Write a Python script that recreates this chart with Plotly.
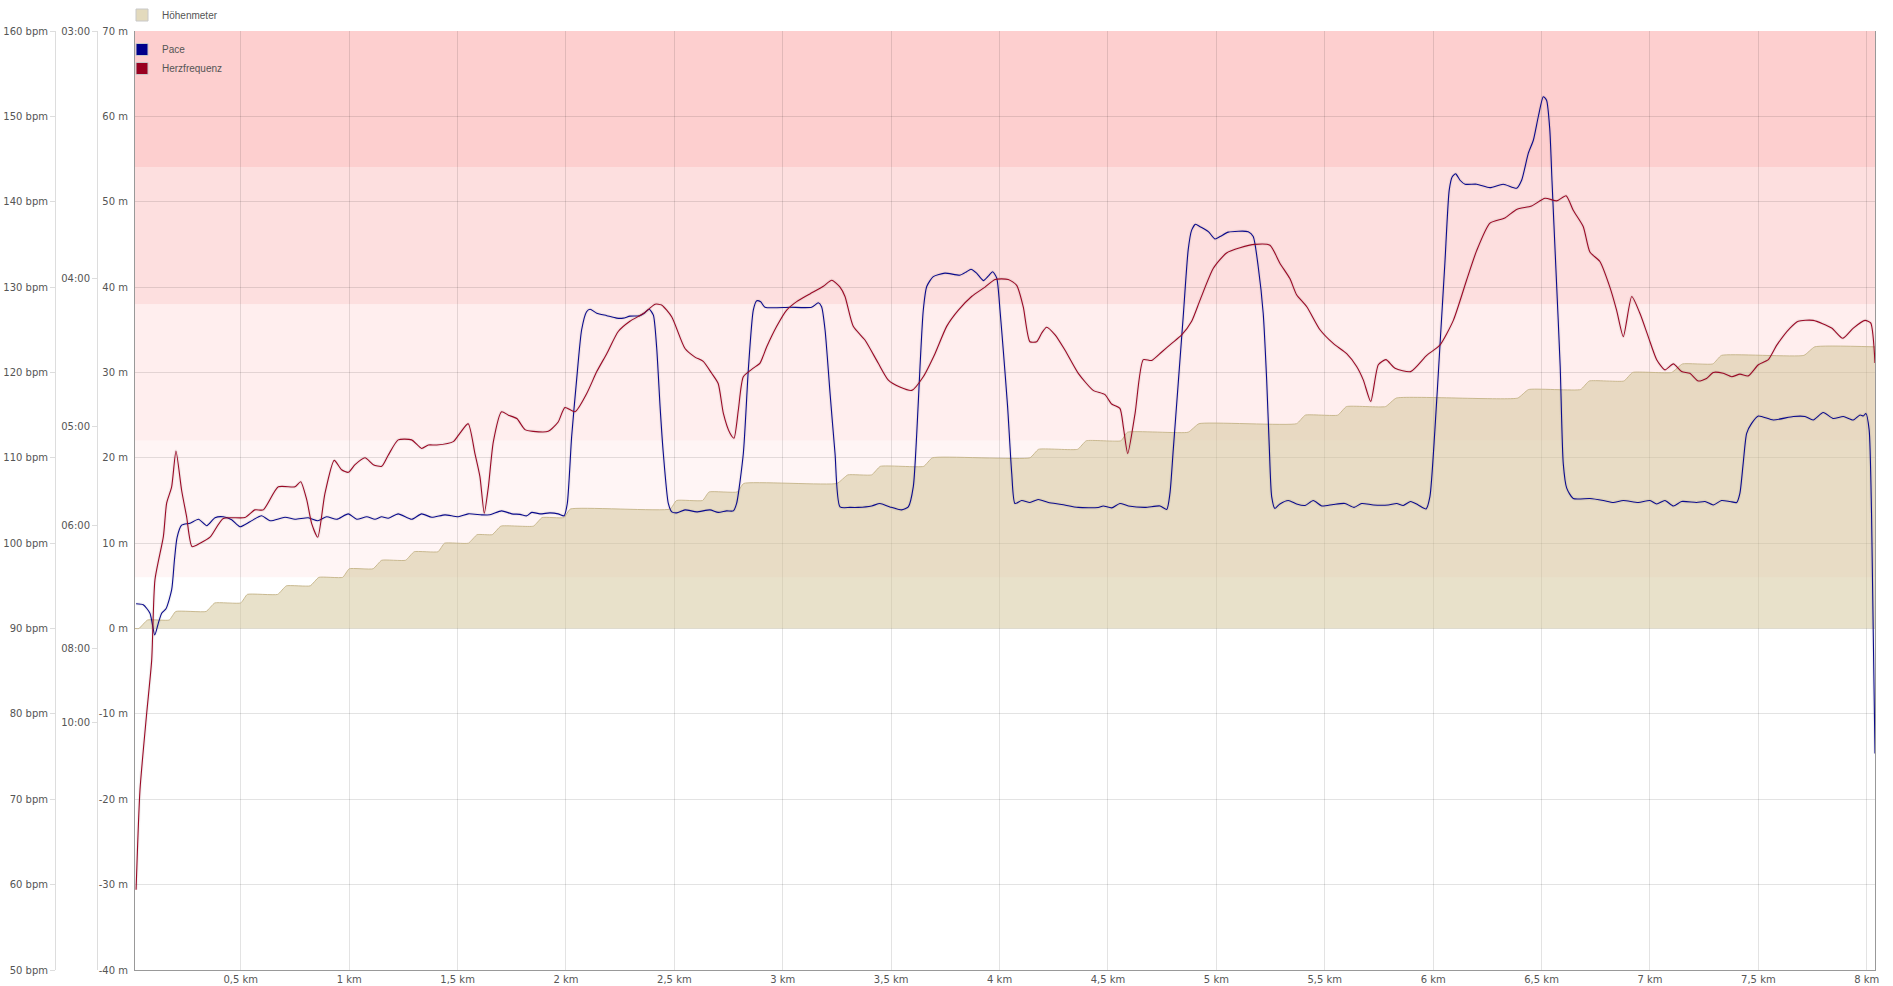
import plotly.graph_objects as go

# ---------------- data ----------------
# Höhenmeter (elevation, m) vs distance (km)
elev_km = [0.012, 0.03, 0.07, 0.17, 0.20, 0.34, 0.38, 0.50, 0.53, 0.67, 0.71, 0.82, 0.86,
           0.97, 1.00, 1.11, 1.15, 1.26, 1.30, 1.41, 1.44, 1.55, 1.59, 1.66, 1.70, 1.85, 1.89,
           1.99, 2.02, 2.48, 2.51, 2.63, 2.66, 2.79, 2.82, 3.25, 3.30, 3.41, 3.45, 3.65, 3.69,
           4.14, 4.18, 4.36, 4.40, 4.56, 4.59, 4.87, 4.92, 5.37, 5.41, 5.56, 5.60, 5.78, 5.83,
           6.39, 6.44, 6.68, 6.72, 6.88, 6.92, 7.10, 7.15, 7.29, 7.33, 7.71, 7.76, 8.038]
elev_m = [0, 0, 1, 1, 2, 2, 3, 3, 4, 4, 5, 5, 6, 6, 7, 7, 8, 8, 9, 9, 10, 10, 11, 11, 12, 12,
          13, 13, 14, 14, 15, 15, 16, 16, 17, 17, 18, 18, 19, 19, 20, 20, 21, 21, 22, 22, 23, 23,
          24, 24, 25, 25, 26, 26, 27, 27, 28, 28, 29, 29, 30, 30, 31, 31, 32, 32, 33, 33]

# Herzfrequenz (bpm) vs distance (km)
hr_km = [0.017, 0.035, 0.066, 0.089, 0.104, 0.143, 0.158, 0.181, 0.201, 0.227, 0.250, 0.275,
         0.312, 0.358, 0.419, 0.519, 0.565, 0.604, 0.673, 0.750, 0.776, 0.804, 0.827, 0.855,
         0.888, 0.931, 0.965, 0.996, 1.027, 1.073, 1.111, 1.150, 1.180, 1.226, 1.288, 1.334,
         1.365, 1.404, 1.480, 1.511, 1.549, 1.580, 1.603, 1.623, 1.642, 1.665, 1.703, 1.734,
         1.773, 1.811, 1.849, 1.918, 1.964, 1.995, 2.042, 2.095, 2.142, 2.188, 2.241, 2.295,
         2.357, 2.411, 2.441, 2.488, 2.549, 2.595, 2.633, 2.672, 2.702, 2.726, 2.756, 2.775,
         2.795, 2.818, 2.864, 2.895, 2.926, 2.972, 3.018, 3.064, 3.125, 3.187, 3.226, 3.264,
         3.287, 3.325, 3.379, 3.440, 3.487, 3.540, 3.595, 3.648, 3.702, 3.756, 3.810, 3.871,
         3.933, 3.979, 4.040, 4.079, 4.109, 4.140, 4.171, 4.194, 4.217, 4.256, 4.302, 4.363,
         4.432, 4.486, 4.517, 4.555, 4.571, 4.591, 4.625, 4.663, 4.701, 4.748, 4.794, 4.840,
         4.886, 4.925, 4.986, 5.047, 5.109, 5.178, 5.247, 5.293, 5.339, 5.370, 5.417, 5.478,
         5.539, 5.601, 5.647, 5.678, 5.712, 5.747, 5.782, 5.824, 5.896, 5.970, 6.031, 6.093,
         6.154, 6.201, 6.262, 6.331, 6.385, 6.454, 6.516, 6.570, 6.613, 6.646, 6.692, 6.723,
         6.769, 6.815, 6.846, 6.877, 6.916, 6.954, 6.992, 7.031, 7.069, 7.108, 7.146, 7.184,
         7.223, 7.261, 7.292, 7.338, 7.377, 7.415, 7.453, 7.500, 7.546, 7.585, 7.646, 7.684,
         7.753, 7.838, 7.889, 7.938, 7.992, 8.018, 8.038]
hr_bpm = [59.4, 71.1, 80.1, 86.3, 95.7, 100.8, 104.7, 106.6, 110.8, 106.2, 103.1, 99.6,
          100.0, 100.7, 102.9, 103.0, 103.9, 103.9, 106.6, 106.6, 107.2, 105.1, 102.3, 100.7,
          105.8, 109.7, 108.6, 108.3, 109.2, 110.0, 109.2, 109.0, 110.3, 112.1, 112.1, 111.1,
          111.5, 111.5, 111.9, 112.9, 114.0, 110.5, 107.8, 103.5, 106.6, 111.9, 115.4, 115.0,
          114.6, 113.3, 113.1, 113.1, 114.2, 115.9, 115.4, 117.5, 120.1, 122.2, 124.8, 126.0,
          126.9, 128.0, 127.9, 126.5, 122.8, 121.8, 121.3, 119.9, 118.7, 115.2, 112.9, 112.3,
          115.6, 119.5, 120.5, 121.1, 123.0, 125.4, 127.3, 128.3, 129.2, 130.1, 130.8, 130.0,
          128.9, 125.4, 123.8, 121.1, 119.1, 118.3, 117.9, 119.5, 122.2, 125.4, 127.3, 128.9,
          130.0, 130.9, 130.9, 130.2, 127.7, 123.6, 123.6, 124.6, 125.3, 124.4, 122.6, 119.9,
          117.9, 117.4, 116.3, 115.8, 113.6, 110.5, 115.2, 121.5, 121.4, 122.4, 123.4, 124.4,
          126.0, 128.5, 132.2, 134.0, 134.6, 135.0, 134.9, 132.8, 131.0, 129.1, 127.7, 125.0,
          123.4, 122.2, 120.7, 119.1, 116.6, 120.9, 121.5, 120.5, 120.1, 122.0, 123.2, 126.1,
          130.8, 134.3, 137.5, 138.1, 139.1, 139.5, 140.4, 140.1, 140.7, 139.0, 137.1, 134.1,
          133.0, 130.0, 127.3, 124.2, 128.9, 126.9, 124.2, 121.5, 120.3, 121.0, 120.1, 119.9,
          119.0, 119.3, 120.0, 119.9, 119.5, 119.8, 119.6, 120.9, 121.5, 123.2, 125.2, 126.0,
          126.1, 125.2, 124.0, 125.2, 126.1, 125.8, 121.1]

# Pace, stored as speed (km/h); the pace axis is linear in speed
pace_km = [0.017, 0.050, 0.081, 0.103, 0.119, 0.135, 0.155, 0.181, 0.194, 0.206, 0.227, 0.266,
           0.305, 0.343, 0.381, 0.419, 0.458, 0.496, 0.542, 0.596, 0.635, 0.704, 0.750, 0.811,
           0.855, 0.896, 0.942, 0.996, 1.035, 1.081, 1.119, 1.150, 1.180, 1.226, 1.288, 1.334,
           1.381, 1.442, 1.503, 1.549, 1.611, 1.649, 1.703, 1.750, 1.788, 1.819, 1.842, 1.880,
           1.926, 1.964, 1.991, 2.006, 2.026, 2.049, 2.072, 2.095, 2.111, 2.142, 2.188, 2.234,
           2.264, 2.295, 2.341, 2.364, 2.384, 2.403, 2.418, 2.434, 2.449, 2.472, 2.488, 2.511,
           2.549, 2.603, 2.664, 2.702, 2.741, 2.772, 2.787, 2.818, 2.841, 2.864, 2.880, 2.898,
           2.918, 3.033, 3.133, 3.164, 3.179, 3.195, 3.218, 3.241, 3.264, 3.310, 3.348, 3.410,
           3.448, 3.494, 3.548, 3.579, 3.602, 3.618, 3.633, 3.648, 3.664, 3.694, 3.748, 3.817,
           3.848, 3.868, 3.894, 3.925, 3.948, 3.968, 3.987, 4.002, 4.017, 4.037, 4.056, 4.071,
           4.102, 4.140, 4.178, 4.225, 4.286, 4.363, 4.455, 4.478, 4.517, 4.555, 4.594, 4.671,
           4.740, 4.771, 4.786, 4.801, 4.824, 4.847, 4.870, 4.886, 4.904, 4.925, 4.963, 4.994,
           5.017, 5.055, 5.147, 5.170, 5.193, 5.216, 5.232, 5.244, 5.255, 5.270, 5.293, 5.332,
           5.370, 5.409, 5.447, 5.486, 5.539, 5.593, 5.635, 5.670, 5.724, 5.793, 5.832, 5.862,
           5.896, 5.931, 5.967, 5.985, 6.008, 6.031, 6.054, 6.074, 6.088, 6.104, 6.124, 6.147,
           6.201, 6.262, 6.323, 6.385, 6.408, 6.439, 6.462, 6.485, 6.508, 6.523, 6.538, 6.548,
           6.566, 6.586, 6.600, 6.616, 6.646, 6.723, 6.785, 6.831, 6.877, 6.946, 7.000, 7.031,
           7.069, 7.108, 7.146, 7.215, 7.254, 7.292, 7.330, 7.369, 7.400, 7.415, 7.430, 7.446,
           7.469, 7.500, 7.569, 7.661, 7.715, 7.753, 7.799, 7.845, 7.892, 7.938, 7.969, 7.984,
           7.996, 8.011, 8.022, 8.038]
pace_speed_kmh = [8.41, 8.39, 8.22, 7.78, 8.01, 8.22, 8.31, 8.69, 9.30, 9.75, 10.00, 10.04,
                  10.12, 9.99, 10.15, 10.17, 10.11, 9.97, 10.07, 10.19, 10.09, 10.16, 10.12, 10.15,
                  10.09, 10.17, 10.12, 10.23, 10.12, 10.17, 10.12, 10.17, 10.14, 10.23, 10.12, 10.23,
                  10.16, 10.21, 10.17, 10.23, 10.21, 10.21, 10.29, 10.23, 10.22, 10.19, 10.26, 10.23,
                  10.25, 10.23, 10.19, 10.44, 11.79, 12.94, 13.95, 14.32, 14.37, 14.29, 14.24, 14.19,
                  14.19, 14.23, 14.24, 14.30, 14.37, 14.25, 13.61, 12.40, 11.45, 10.44, 10.27, 10.25,
                  10.31, 10.27, 10.31, 10.26, 10.29, 10.29, 10.44, 11.45, 13.14, 14.35, 14.54, 14.52,
                  14.41, 14.41, 14.41, 14.50, 14.42, 13.95, 12.67, 11.45, 10.37, 10.36, 10.36, 10.39,
                  10.44, 10.37, 10.31, 10.37, 10.78, 11.86, 13.21, 14.35, 14.83, 15.03, 15.10, 15.06,
                  15.13, 15.18, 15.10, 14.95, 15.04, 15.13, 15.00, 14.35, 13.54, 12.40, 11.05, 10.44,
                  10.50, 10.46, 10.52, 10.46, 10.42, 10.36, 10.36, 10.39, 10.35, 10.44, 10.39, 10.36,
                  10.39, 10.32, 10.65, 11.52, 12.87, 14.22, 15.57, 15.97, 16.09, 16.04, 15.94, 15.79,
                  15.84, 15.93, 15.94, 15.84, 15.23, 14.29, 12.94, 11.59, 10.58, 10.34, 10.43, 10.50,
                  10.43, 10.40, 10.50, 10.39, 10.42, 10.44, 10.36, 10.44, 10.41, 10.41, 10.44, 10.40,
                  10.48, 10.41, 10.33, 10.58, 11.93, 13.61, 15.30, 16.78, 17.05, 17.11, 16.98, 16.90,
                  16.90, 16.83, 16.90, 16.82, 16.98, 17.53, 17.79, 18.27, 18.67, 18.60, 18.00, 16.98,
                  15.20, 13.20, 11.25, 10.75, 10.54, 10.54, 10.50, 10.46, 10.50, 10.46, 10.50, 10.43,
                  10.50, 10.39, 10.48, 10.46, 10.48, 10.41, 10.50, 10.48, 10.46, 10.65, 11.25, 11.86,
                  12.06, 12.21, 12.13, 12.20, 12.20, 12.13, 12.28, 12.16, 12.20, 12.13, 12.23, 12.21,
                  12.26, 11.93, 10.24, 5.38]

# heart-rate zone limits (bpm) and their colours
zone_bpm = [96, 112, 128, 144, 160]
zone_colors = ["#fff5f5", "#ffeeee", "#fddfdf", "#fdcfcf"]

# axis ticks
x_tick_km = [0.5, 1, 1.5, 2, 2.5, 3, 3.5, 4, 4.5, 5, 5.5, 6, 6.5, 7, 7.5, 8]
x_tick_labels = ["0,5 km", "1 km", "1,5 km", "2 km", "2,5 km", "3 km", "3,5 km", "4 km",
                 "4,5 km", "5 km", "5,5 km", "6 km", "6,5 km", "7 km", "7,5 km", "8 km"]
pace_tick_min = [3, 4, 5, 6, 8, 10]
pace_tick_labels = ["03:00", "04:00", "05:00", "06:00", "08:00", "10:00"]
m_tick_vals = [-40, -30, -20, -10, 0, 10, 20, 30, 40, 50, 60, 70]
bpm_tick_vals = [50, 60, 70, 80, 90, 100, 110, 120, 130, 140, 150, 160]

# ---------------- figure ----------------
W, H = 1893, 986
ML, MR, MT, MB = 0, 18, 31, 16
PW = W - ML - MR
PH = H - MT - MB

def px_x(p):
    return p / PW

AXIS_FONT = dict(family="DejaVu Sans", size=10, color="#555555")
LEG_FONT = dict(family="Liberation Sans, Arial", size=10, color="#555555")
HR_COLOR = "#9a0a26"
PACE_COLOR = "#0b0b8c"
ELEV_LINE = "rgba(196,180,135,0.9)"
ELEV_FILL = "rgba(210,195,150,0.5)"

fig = go.Figure()

# elevation area
fig.add_trace(go.Scatter(
    x=elev_km, y=elev_m, mode="lines", name="Höhenmeter",
    line=dict(color=ELEV_LINE, width=1, shape="spline", smoothing=0.4),
    fill="tozeroy", fillcolor=ELEV_FILL, yaxis="y", showlegend=False,
    hoverinfo="skip"))

# soft shadows
fig.add_trace(go.Scatter(x=pace_km, y=pace_speed_kmh, mode="lines", yaxis="y2",
                         line=dict(color="rgba(0,0,0,0.05)", width=3.5, shape="spline", smoothing=0.6),
                         showlegend=False, hoverinfo="skip"))
fig.add_trace(go.Scatter(x=hr_km, y=hr_bpm, mode="lines", yaxis="y3",
                         line=dict(color="rgba(0,0,0,0.05)", width=3.5, shape="spline", smoothing=0.6),
                         showlegend=False, hoverinfo="skip"))

# pace line
fig.add_trace(go.Scatter(
    x=pace_km, y=pace_speed_kmh, mode="lines", name="Pace", yaxis="y2",
    line=dict(color=PACE_COLOR, width=1.1, shape="spline", smoothing=0.6),
    showlegend=False))

# heart-rate line
fig.add_trace(go.Scatter(
    x=hr_km, y=hr_bpm, mode="lines", name="Herzfrequenz", yaxis="y3",
    line=dict(color=HR_COLOR, width=1.1, shape="spline", smoothing=0.6),
    showlegend=False))

# legend entries (square swatches)
fig.add_trace(go.Bar(x=[None], y=[None], name="Höhenmeter", legend="legend",
                     marker=dict(color="#e3dabd", line=dict(color="#c8c8c8", width=1))))
fig.add_trace(go.Bar(x=[None], y=[None], name="Pace", legend="legend2",
                     marker=dict(color="#00008b", line=dict(color="#c8c8c8", width=1))))
fig.add_trace(go.Bar(x=[None], y=[None], name="Herzfrequenz", legend="legend2",
                     marker=dict(color="#990020", line=dict(color="#c8c8c8", width=1))))

# heart-rate zone bands
shapes = []
for i in range(len(zone_colors)):
    shapes.append(dict(type="rect", xref="x domain", x0=0, x1=1, yref="y3",
                       y0=zone_bpm[i], y1=zone_bpm[i + 1], fillcolor=zone_colors[i],
                       line=dict(width=0), layer="below"))

x0_dom = px_x(135)
fig.update_layout(
    width=W, height=H,
    margin=dict(l=ML, r=MR, t=MT, b=MB),
    paper_bgcolor="white", plot_bgcolor="white",
    shapes=shapes,
    showlegend=True,
    xaxis=dict(domain=[x0_dom, 1], range=[0.012, 8.038], tickvals=x_tick_km,
               ticktext=x_tick_labels, showgrid=True, gridcolor="rgba(0,0,0,0.11)",
               gridwidth=1, zeroline=False, showline=True, linecolor="#999999",
               linewidth=1, ticks="", tickfont=AXIS_FONT),
    yaxis=dict(range=[-40, 70], tickvals=m_tick_vals,
               ticktext=[f"{v} m" for v in m_tick_vals], showgrid=True,
               gridcolor="rgba(0,0,0,0.11)", zeroline=False, showline=True,
               linecolor="#999999", linewidth=1, mirror=True, ticks="",
               tickfont=AXIS_FONT, ticklabelstandoff=4),
    yaxis2=dict(overlaying="y", anchor="free", position=px_x(97), side="left",
                range=[1, 20], tickvals=[60 / m for m in pace_tick_min],
                ticktext=pace_tick_labels, showgrid=False, zeroline=False,
                showline=True, linecolor="#dddddd", linewidth=1, ticks="outside",
                ticklen=5, tickcolor="#dddddd", tickfont=AXIS_FONT),
    yaxis3=dict(overlaying="y", anchor="free", position=px_x(55), side="left",
                range=[50, 160], tickvals=bpm_tick_vals,
                ticktext=[f"{v} bpm" for v in bpm_tick_vals], showgrid=False,
                zeroline=False, showline=True, linecolor="#dddddd", linewidth=1,
                ticks="outside", ticklen=5, tickcolor="#dddddd", tickfont=AXIS_FONT),
    legend=dict(x=px_x(122), xanchor="left", y=1 + 30.5 / PH, yanchor="top",
                bgcolor="rgba(0,0,0,0)", font=LEG_FONT, itemclick=False,
                tracegroupgap=0),
    legend2=dict(x=px_x(122), xanchor="left", y=1 - 4 / PH, yanchor="top",
                 bgcolor="rgba(0,0,0,0)", font=LEG_FONT, itemclick=False,
                 tracegroupgap=0),
    hovermode=False,
)

fig.write_html("out.html", config={"displayModeBar": False},
               post_script="document.body.style.margin='0px';")
